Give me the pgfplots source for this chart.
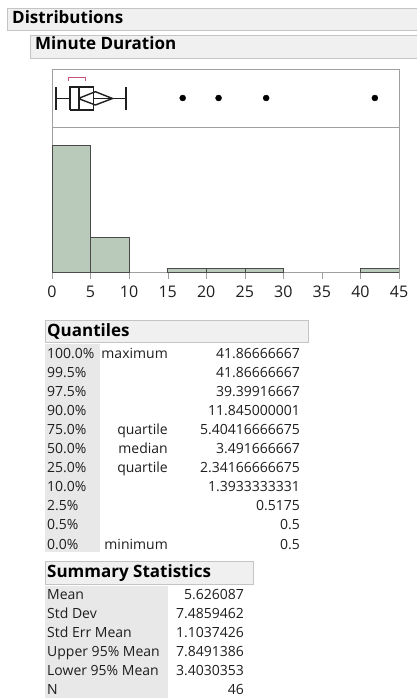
\documentclass[border=0pt]{standalone}
\usepackage{fontspec}
\setmainfont{Open Sans}
\usepackage{pgfplots}
\pgfplotsset{compat=1.18}

\definecolor{hdrfill}{HTML}{F0F0F0}
\definecolor{hdrline}{HTML}{C4C4C4}
\definecolor{colfill}{HTML}{E8E8E8}
\definecolor{framegray}{HTML}{A0A0A0}
\definecolor{barfill}{HTML}{BACABA}
\definecolor{barline}{HTML}{4A4A4A}
\definecolor{shorth}{HTML}{C8507A}
\definecolor{txt}{HTML}{1E1E1E}

\newcommand{\hdr}{\fontsize{17}{20}\selectfont\bfseries}
\newcommand{\body}{\fontsize{14}{16}\selectfont}

\begin{document}
\begin{tikzpicture}
\useasboundingbox (0,0) rectangle (417pt,-698pt);

% histogram
\begin{axis}[
  at={(52pt,-272pt)}, anchor=south west,
  scale only axis, width=347pt, height=145pt,
  xmin=0, xmax=45, ymin=0, ymax=37.7,
  axis line style={framegray},
  xtick={0,5,...,45}, ytick=\empty,
  xtick pos=lower, tick align=outside, major tick length=7pt,
  tick style={framegray},
  xticklabel style={font=\fontsize{16}{18}\selectfont, text=txt, inner sep=2pt, yshift=-5pt},
  /pgf/number format/assume math mode=true,
]
\addplot[ybar interval, fill=barfill, draw=barline] coordinates {(0,33) (5,9) (10,9)};
\addplot[ybar interval, fill=barfill, draw=barline] coordinates {(15,1) (20,1) (25,1) (30,1)};
\addplot[ybar interval, fill=barfill, draw=barline] coordinates {(40,1) (45,1)};
\end{axis}

% outlier box plot
\begin{axis}[
  at={(52pt,-127pt)}, anchor=south west,
  scale only axis, width=347pt, height=58pt,
  xmin=0, xmax=45, ymin=0, ymax=58,
  axis line style={framegray}, ticks=none,
]
\addplot[black!88, line width=1.4pt] coordinates {(2.3417,17) (5.4042,17) (5.4042,40) (2.3417,40) (2.3417,17)};
\addplot[black!88, line width=1.4pt] coordinates {(3.4917,17) (3.4917,40)};
\addplot[black!88, line width=1.4pt] coordinates {(0.5,28.5) (2.3417,28.5)};
\addplot[black!88, line width=1.4pt] coordinates {(5.4042,28.5) (9.6,28.5)};
\addplot[black!88, line width=1.4pt] coordinates {(0.5,17) (0.5,40)};
\addplot[black!88, line width=1.4pt] coordinates {(9.6,17) (9.6,40)};
\addplot[black!88, line width=1.4pt] coordinates {(3.403,28.5) (5.626,35.3) (7.849,28.5) (5.626,22) (3.403,28.5)};
\addplot[shorth, line width=1pt] coordinates {(2.2,46.3) (2.2,49.3) (4.4,49.3) (4.4,46.3)};
\addplot[only marks, mark=*, mark size=3pt, black] coordinates {(16.95,29) (21.6,29) (27.77,29) (41.87,29)};
\end{axis}

\begin{scope}[x=1pt, y=-1pt]
% report headers
\filldraw[fill=hdrfill, draw=hdrline] (7,8) rectangle (418,30);
\node[anchor=base west, inner sep=0, font=\hdr, text=black] at (12,23.3) {Distributions};
\filldraw[fill=hdrfill, draw=hdrline] (30,35) rectangle (418,58);
\node[anchor=base west, inner sep=0, font=\hdr, text=black] at (35,50) {Minute Duration};

% quantiles
\filldraw[fill=hdrfill, draw=hdrline] (45,320) rectangle (308,342);
\node[anchor=base west, inner sep=0, font=\hdr, text=black] at (47,336.5) {Quantiles};
\fill[colfill] (45,344) rectangle (100,552);
\foreach \p/\l/\v [count=\i from 0] in {
  100.0\%/maximum/41.86666667,
  99.5\%//41.86666667,
  97.5\%//39.39916667,
  90.0\%//11.845000001,
  75.0\%/quartile/5.40416666675,
  50.0\%/median/3.491666667,
  25.0\%/quartile/2.34166666675,
  10.0\%//1.3933333331,
  2.5\%//0.5175,
  0.5\%//0.5,
  0.0\%/minimum/0.5}{
  \pgfmathsetmacro{\yy}{358+19.1*\i}
  \node[anchor=base west, inner sep=0, font=\body, text=txt] at (47,\yy) {\p};
  \node[anchor=base east, inner sep=0, font=\body, text=txt] at (168,\yy) {\l};
  \node[anchor=base east, inner sep=0, font=\body, text=txt] at (300,\yy) {\v};
}

% summary statistics
\filldraw[fill=hdrfill, draw=hdrline] (45,561.5) rectangle (253,584);
\node[anchor=base west, inner sep=0, font=\hdr, text=black] at (47,577) {Summary Statistics};
\fill[colfill] (45,585.5) rectangle (168,698);
\foreach \l/\v [count=\i from 0] in {
  Mean/5.626087,
  Std Dev/7.4859462,
  Std Err Mean/1.1037426,
  Upper 95\% Mean/7.8491386,
  Lower 95\% Mean/3.4030353,
  N/46}{
  \pgfmathsetmacro{\yy}{599.5+18.9*\i}
  \node[anchor=base west, inner sep=0, font=\body, text=txt] at (47,\yy) {\l};
  \node[anchor=base east, inner sep=0, font=\body, text=txt] at (244,\yy) {\v};
}
\end{scope}
\end{tikzpicture}
\end{document}
